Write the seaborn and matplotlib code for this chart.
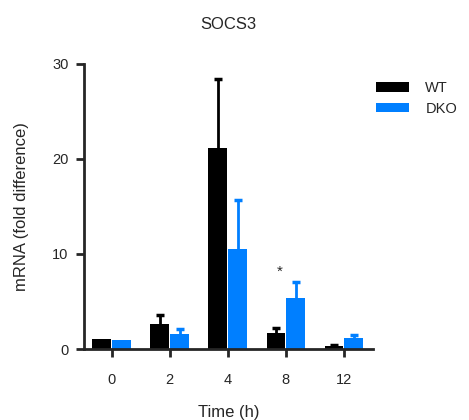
import numpy as np
import pandas as pd
import seaborn as sns
import matplotlib.pyplot as plt

# values (mean and upper error)
times = ['0', '2', '4', '8', '12']
wt_mean = [1.05, 2.6, 21.1, 1.7, 0.35]
wt_err = [0.0, 1.0, 7.3, 0.5, 0.1]
dko_mean = [1.0, 1.6, 10.5, 5.4, 1.15]
dko_err = [0.0, 0.5, 5.2, 1.7, 0.35]
groups = ['WT', 'DKO']
colors = ['#000000', '#007fff']

df = pd.DataFrame({
    'time': times * 2,
    'genotype': ['WT'] * len(times) + ['DKO'] * len(times),
    'mrna': wt_mean + dko_mean,
    'err': wt_err + dko_err,
})

sns.set_style('ticks')
plt.rcParams['font.family'] = ['Liberation Sans', 'DejaVu Sans']

fig = plt.figure(figsize=(4.69, 4.2), dpi=100)
ax = fig.add_axes([0.179, 0.169, 0.616, 0.679])

sns.barplot(data=df, x='time', y='mrna', hue='genotype', order=times,
            hue_order=groups, palette=colors, width=0.68, gap=0.04,
            errorbar=None, saturation=1, linewidth=0, ax=ax)

# upward-only error bars (stem + top cap) on the drawn bars
cap = 0.07
for cont, g in zip(ax.containers, groups):
    errs = df[df.genotype == g].set_index('time').loc[times, 'err'].values
    col = cont.patches[0].get_facecolor()
    for p, e in zip(cont.patches, errs):
        if e <= 0:
            continue
        xc = p.get_x() + p.get_width() / 2
        top = p.get_height() + e
        ax.vlines(xc, p.get_height(), top, colors=[col], linewidth=2, zorder=3)
        ax.hlines(top, xc - cap, xc + cap, colors=[col], linewidth=2.5,
                  zorder=3)

ax.text(2.9, 7.4, '*', ha='center', va='bottom', fontsize=11)

ax.set_ylim(0, 30)
ax.set_xlim(-0.48, 4.5)
ax.set_yticks([0, 10, 20, 30])
ax.set_title('SOCS3', fontsize=12, pad=25)
ax.set_xlabel('Time (h)', fontsize=12, labelpad=13)
ax.set_ylabel('mRNA (fold difference)', fontsize=12, labelpad=17)
ax.tick_params(width=2, length=6, labelsize=10.5)
ax.tick_params(axis='x', pad=11)
ax.tick_params(axis='y', pad=5)
for s in ['left', 'bottom']:
    ax.spines[s].set_linewidth(2)
sns.despine(ax=ax)

ax.legend(title=None, frameon=False, loc='upper left',
          bbox_to_anchor=(1.01, 0.94), borderaxespad=0, borderpad=0,
          handlelength=2.3, handleheight=0.65, handletextpad=1.1,
          labelspacing=0.45, fontsize=10.5)

fig.savefig('out.png', dpi=100)
